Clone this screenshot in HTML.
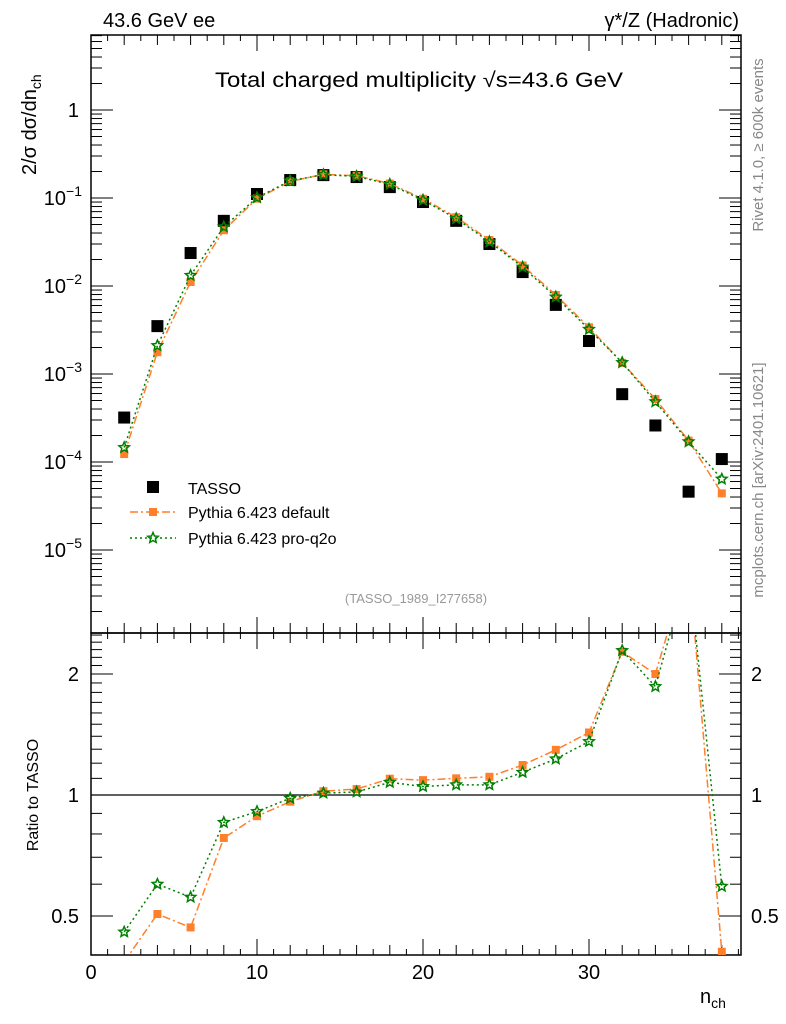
<!DOCTYPE html>
<html><head><meta charset="utf-8"><style>
html,body{margin:0;padding:0;background:#fff}
svg{display:block;font-family:"Liberation Sans",sans-serif}
</style></head><body>
<svg id="c" width="786" height="1024" xmlns="http://www.w3.org/2000/svg">
<text x="103" y="27" font-size="20">43.6 GeV ee</text>
<text x="739" y="27" font-size="20" text-anchor="end">γ*/Z (Hadronic)</text>
<text x="215" y="87" font-size="21" textLength="408" lengthAdjust="spacingAndGlyphs">Total charged multiplicity √s=43.6 GeV</text>
<text transform="translate(763,145) rotate(-90)" font-size="15" fill="#888" text-anchor="middle">Rivet 4.1.0, ≥ 600k events</text>
<text transform="translate(763,480) rotate(-90)" font-size="15" fill="#888" text-anchor="middle">mcplots.cern.ch [arXiv:2401.10621]</text>
<text x="416" y="603" font-size="13" fill="#999" text-anchor="middle">(TASSO_1989_I277658)</text>
<text transform="translate(36,175) rotate(-90)" font-size="20">2/σ    dσ/dn<tspan font-size="14" dy="5">ch</tspan></text>
<text transform="translate(38,795) rotate(-90)" font-size="16" text-anchor="middle">Ratio to TASSO</text>
<text x="700" y="1003" font-size="20">n<tspan font-size="14" dy="5">ch</tspan></text>
<g id="g"></g>
</svg>
<script>
const nch=[2,4,6,8,10,12,14,16,18,20,22,24,26,28,30,32,34,36,38];
const tasso=[3.2e-4,3.5e-3,0.0237,0.055,0.111,0.16,0.182,0.173,0.133,0.09,0.055,0.030,0.0144,0.0061,0.00237,5.9e-4,2.6e-4,4.6e-5,1.08e-4];
const pyDefault=[1.23e-4,1.77e-3,0.0111,0.043,0.0983,0.154,0.186,0.179,0.146,0.098,0.0605,0.0333,0.0171,0.0079,0.00339,0.00134,5.2e-4,1.75e-4,4.4e-5];
const pyQ2o=[1.46e-4,2.1e-3,0.0132,0.047,0.101,0.157,0.184,0.176,0.143,0.0945,0.0583,0.0318,0.0164,0.0075,0.00322,0.00135,4.84e-4,1.7e-4,6.4e-5];
const xTicks=[0,10,20,30];
const yTickExp=[-5,-4,-3,-2,-1,0];
const rTicks=[0.5,1,2];

const NS="http://www.w3.org/2000/svg",g=document.getElementById('g');
const L=91,R=741,T=35,M=633,B=955;
const X=v=>L+v*16.6;
const Y=v=>110-Math.log10(v)*88;
const RY=v=>795-Math.log2(v)*121;
function el(t,a,p){const e=document.createElementNS(NS,t);for(const k in a)e.setAttribute(k,a[k]);(p||g).appendChild(e);return e;}
const defs=el('defs',{});
const c1=el('clipPath',{id:'cm'},defs);el('rect',{x:L,y:T,width:R-L,height:M-T},c1);
const c2=el('clipPath',{id:'cr'},defs);el('rect',{x:L,y:M,width:R-L,height:B-M},c2);
let f=el('rect',{x:L,y:T,width:R-L,height:M-T,fill:'none',stroke:'#000','stroke-width':1.5});

f=el('rect',{x:L,y:M,width:R-L,height:B-M,fill:'none',stroke:'#000','stroke-width':1.5});

for(let i=0;i<=39;i++){const x=X(i);const len=i%10==0?16:(i%2==0?10:6);
 for(const [y0,d] of [[T,1],[M,-1],[M,1],[B,-1]]){el('line',{x1:x,x2:x,y1:y0,y2:y0+d*len,stroke:'#000'});}}
xTicks.forEach(v=>{const t=el('text',{x:X(v),y:979,'font-size':20,'text-anchor':'middle'});t.textContent=v;
});
for(let e=-6;e<=0;e++)for(let m=1;m<=9;m++){const v=m*Math.pow(10,e);const y=Y(v);if(y<T||y>M)continue;const len=m==1?22:11;
 el('line',{x1:L,x2:L+len,y1:y,y2:y,stroke:'#000'});el('line',{x1:R,x2:R-len,y1:y,y2:y,stroke:'#000'});}
yTickExp.forEach(e=>{const t=el('text',{x:e==0?79:82,y:Y(Math.pow(10,e))+7,'font-size':20,'text-anchor':'end'});
 if(e==0)t.textContent='1';else{t.textContent='10';const s=el('tspan',{'font-size':14,dy:-9},t);s.textContent=String(e).replace('-','−');}
 });
for(let k=3;k<=25;k++){const v=k/10;const y=RY(v);if(y<M||y>B)continue;const maj=(v==0.5||v==1||v==2);const len=maj?22:11;
 el('line',{x1:L,x2:L+len,y1:y,y2:y,stroke:'#000'});el('line',{x1:R,x2:R-len,y1:y,y2:y,stroke:'#000'});}
rTicks.forEach(v=>{for(const [x,a] of [[79,'end'],[751,'start']]){const t=el('text',{x:x,y:RY(v)+7,'font-size':20,'text-anchor':a});t.textContent=String(v);
 }});
el('line',{x1:L,x2:R,y1:RY(1),y2:RY(1),stroke:'#000','stroke-width':1.2});
function star(cx,cy,r,p){let d='';for(let i=0;i<10;i++){const a=-Math.PI/2+i*Math.PI/5,rr=i%2?r*0.45:r;d+=(i?'L':'M')+(cx+rr*Math.cos(a)).toFixed(1)+','+(cy+rr*Math.sin(a)).toFixed(1);}
 return el('path',{d:d+'Z',fill:'none',stroke:'#008000','stroke-width':1.5},p);}
function series(vals,yf,clip,color,dash,kind,name){
 const gg=el('g',{'clip-path':'url(#'+clip+')'});
 el('polyline',{points:nch.map((n,i)=>X(n)+','+yf(vals[i])).join(' '),fill:'none',stroke:color,'stroke-width':1.5,'stroke-dasharray':dash},gg);
 nch.forEach((n,i)=>{const x=X(n),y=yf(vals[i]);
  if(kind=='sq'){const r=el('rect',{x:x-4,y:y-4,width:8,height:8,fill:color},gg);}
  else{const s=star(x,y,5.5,gg);}});
}
const dg=el('g',{'clip-path':'url(#cm)'});
nch.forEach((n,i)=>{const r=el('rect',{x:X(n)-6,y:Y(tasso[i])-6,width:12,height:12,fill:'#000'},dg);
});
series(pyDefault,Y,'cm','#ff7f2a','8,3,2,3','sq','pythia-default');
series(pyQ2o,Y,'cm','#008000','2,3','st','pythia-q2o');
series(pyDefault.map((v,i)=>v/tasso[i]),RY,'cr','#ff7f2a','8,3,2,3','sq','ratio-pythia-default');
series(pyQ2o.map((v,i)=>v/tasso[i]),RY,'cr','#008000','2,3','st','ratio-pythia-q2o');
const lg=el('g',{});
el('rect',{x:147,y:481,width:12,height:12,fill:'#000'},lg);
let t=el('text',{x:188,y:494,'font-size':16},lg);t.textContent='TASSO';
el('line',{x1:130,x2:176,y1:512,y2:512,stroke:'#ff7f2a','stroke-width':1.5,'stroke-dasharray':'8,3,2,3'},lg);
el('rect',{x:149,y:508,width:8,height:8,fill:'#ff7f2a'},lg);
t=el('text',{x:188,y:518,'font-size':16},lg);t.textContent='Pythia 6.423 default';
el('line',{x1:130,x2:176,y1:538,y2:538,stroke:'#008000','stroke-width':1.5,'stroke-dasharray':'2,3'},lg);
star(153,538,5.5,lg);
t=el('text',{x:188,y:544,'font-size':16},lg);t.textContent='Pythia 6.423 pro-q2o';
</script>
</body></html>
